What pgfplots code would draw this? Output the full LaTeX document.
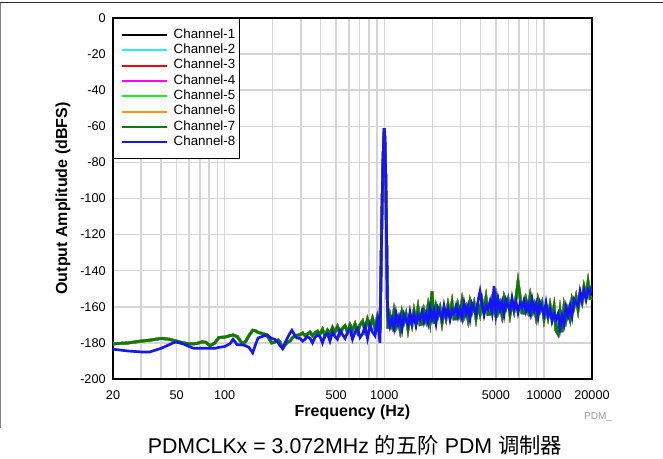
\documentclass[border=0pt]{standalone}
\usepackage{pgfplots}
\pgfplotsset{compat=1.18}
\usepackage{pgfplotstable}
\usepackage{fontspec}
\setmainfont{Liberation Sans}
\newfontfamily\cjk{Noto Sans CJK SC}

\definecolor{ch1}{RGB}{0,0,0}
\definecolor{ch2}{RGB}{40,235,250}
\definecolor{ch3}{RGB}{255,0,0}
\definecolor{ch4}{RGB}{255,0,255}
\definecolor{ch5}{RGB}{30,240,30}
\definecolor{ch6}{RGB}{255,150,0}
\definecolor{ch7}{RGB}{0,128,0}
\definecolor{ch8}{RGB}{20,20,255}
\definecolor{gridgray}{RGB}{212,212,212}

% f = frequency (Hz), g = Channel-7 (and 1-6, hidden under it), b = Channel-8
\pgfplotstableread{
f g b
20 -180.5 -183.5
25 -180 -184.5
30 -179 -185
34 -178.5 -185
40 -177.5 -183
45 -178 -181
49 -178.8 -179.5
55 -180 -180.5
60 -180.5 -182
64 -180.5 -183
67 -180.3 -183
72 -179.5 -183
76 -179.6 -183
81 -181.5 -183
87 -180 -183
92 -177 -182.5
100 -176.8 -182
108 -176 -180.5
113 -175.6 -178
120 -176.5 -181
128 -180 -181
135 -179.5 -181.5
142 -176 -182.5
150 -173 -185.5
156 -173.3 -181
162 -174.2 -177.3
171 -174.7 -176.5
184 -175.6 -175.6
197 -180 -177.5
206 -179.6 -178
217 -178.4 -180
222 -179.5 -181.5
231 -183 -183
245 -180 -178
257 -178.9 -174.5
264 -177.5 -173
272 -176.5 -175
283 -175.8 -177.3
297 -175.5 -177.5
308 -174.5 -179
319 -176 -178
331 -175 -176.5
343 -174 -177.5
355 -176 -180
368 -174.5 -177
382 -173.5 -175.5
396 -175 -176.5
410 -172.5 -180
425 -176 -176
441 -173 -175
457 -175 -179
474 -171.5 -174
491 -174 -176.5
509 -171 -178
528 -175 -173
548 -172 -175.5
568 -170.5 -177.5
589 -174 -174
610 -170 -172.5
632 -173 -178
656 -169.5 -174
680 -174 -172
705 -170 -177
731 -168 -175
757 -173 -171
785 -167 -177.5
814 -171 -170
844 -166.5 -174
875 -172 -176
907 -165.5 -167.5
940 -170 -180
950 -150 -150
965 -112 -112
980 -82 -82
993 -66 -66
1000 -61 -61
1008 -67 -67
1020 -86 -86
1032 -117 -117
1045 -156 -156
1055 -172.0 -165.0
1086 -164.9 -170.9
1118 -169.8 -166.8
1150 -162.7 -171.7
1184 -170.6 -163.6
1219 -166.5 -169.5
1254 -172.4 -165.4
1291 -163.4 -172.4
1329 -168.3 -164.3
1368 -164.2 -167.2
1408 -172.1 -170.1
1449 -165.0 -163.0
1491 -169.8 -168.8
1535 -162.5 -164.5
1580 -168.3 -170.3
1626 -161.0 -165.0
1674 -169.8 -166.8
1723 -169.5 -162.5
1773 -162.3 -168.3
1825 -167.0 -164.0
1879 -159.8 -168.8
1934 -167.5 -160.5
1990 -151.5 -166.4
2048 -169.2 -162.2
2108 -160.1 -169.1
2170 -164.9 -160.9
2234 -160.8 -163.8
2299 -168.6 -166.6
2366 -161.5 -159.5
2436 -166.3 -165.3
2507 -159.2 -161.2
2580 -165.0 -167.0
2656 -157.9 -161.9
2734 -166.7 -163.7
2814 -166.6 -159.6
2896 -159.4 -165.4
2981 -164.3 -161.3
3068 -157.1 -166.1
3158 -165.0 -158.0
3250 -160.8 -163.8
3345 -166.7 -159.7
3443 -157.5 -166.5
3544 -162.4 -158.4
3648 -158.2 -161.2
3755 -166.1 -164.1
3865 -158.9 -156.9
3978 -163.8 -151.5
4094 -156.6 -158.6
4214 -162.5 -164.5
4337 -155.3 -159.3
4464 -164.2 -161.2
4595 -164.0 -157.0
4729 -156.9 -162.9
4868 -161.8 -148.5
5010 -154.7 -163.7
5157 -162.6 -155.6
5308 -158.5 -161.5
5463 -164.4 -157.4
5623 -155.3 -164.3
5787 -160.2 -156.2
5957 -156.1 -159.1
6131 -164.0 -162.0
6310 -157.1 -155.1
6495 -162.1 -161.1
6685 -155.2 -157.2
6881 -146.5 -163.2
7082 -154.3 -158.3
7289 -163.3 -160.3
7503 -163.4 -156.4
7722 -156.4 -162.4
7948 -161.5 -158.5
8181 -154.5 -163.5
8420 -162.8 -155.8
8667 -159.0 -162.0
8920 -165.3 -158.3
9181 -156.6 -165.6
9450 -161.8 -157.8
9727 -158.1 -161.1
10011 -166.4 -164.4
10304 -159.8 -157.8
10606 -165.6 -164.6
10916 -159.3 -161.3
11236 -166.0 -168.0
11565 -160.0 -164.0
11903 -173.0 -167.0
12251 -175.0 -164.0
12610 -163.5 -172.0
12979 -174.0 -165.0
13358 -160.5 -169.5
13749 -167.2 -160.2
14152 -161.8 -164.8
14566 -166.5 -159.5
14992 -156.2 -165.2
15430 -160.0 -156.0
15882 -154.8 -157.8
16347 -161.5 -159.5
16825 -153.4 -151.4
17317 -157.3 -156.3
17824 -149.1 -151.1
18345 -154.0 -156.0
18882 -146.6 -150.6
19434 -155.3 -152.3
20000 -155.0 -148.0
}\spectrum

\begin{document}
\begin{tikzpicture}
\useasboundingbox (-84.75pt,-59.25pt) rectangle (412.5pt,284.25pt);
\begin{axis}[
    name=ax, at={(0,0)}, anchor=south west,
    scale only axis, width=359.25pt, height=270.75pt,
    xmode=log, xmin=20, xmax=20000, ymin=-200, ymax=0,
    xtick={20,50,100,500,1000,5000,10000,20000},
    xticklabels={20,50,100,500,1000,5000,10000,20000},
    minor xtick={30,40,60,70,80,90,200,300,400,600,700,800,900,2000,3000,4000,6000,7000,8000,9000},
    ytick={-200,-180,...,0},
    grid=both,
    major grid style={gridgray, line width=1.1pt},
    minor grid style={gridgray, line width=1.1pt},
    major tick length=0pt, minor tick length=0pt,
    axis line style={line width=1.5pt},
    tick label style={font=\fontsize{9.5}{11}\selectfont},
    /pgf/number format/assume math mode=true,
    yticklabel style={xshift=-2pt},
    xticklabel style={yshift=-5.3pt},
    xlabel={Frequency (Hz)}, ylabel={Output Amplitude (dBFS)},
    label style={font=\fontsize{12}{14}\selectfont\bfseries},
    xlabel style={at={(axis description cs:0.5,-0.093)}, anchor=center},
    ylabel style={at={(axis description cs:-0.1044,0.5)}, anchor=center},
    legend style={at={(0,1)}, anchor=north west, draw=black, line width=1.1pt,
        font=\fontsize{10}{12}\selectfont, inner xsep=1pt, inner ysep=6.5pt,
        row sep=0pt, column sep=2.25pt,
        nodes={inner xsep=2pt, inner ysep=0pt, text height=8pt, text depth=3.5pt}},
    legend cell align=left,
    legend image code/.code={\path (0pt,0pt); \draw[#1, line width=1.5pt] (4.25pt,0pt) -- (38pt,0pt);},
    every axis plot/.append style={line width=2pt, no markers},
]
\addplot[ch1] table[x=f, y=g] {\spectrum};
\addplot[ch2] table[x=f, y=g] {\spectrum};
\addplot[ch3] table[x=f, y=g] {\spectrum};
\addplot[ch4] table[x=f, y=g] {\spectrum};
\addplot[ch5] table[x=f, y=g] {\spectrum};
\addplot[ch6] table[x=f, y=g] {\spectrum};
\addplot[ch7] table[x=f, y=g] {\spectrum};
\addplot[ch8] table[x=f, y=b] {\spectrum};
\legend{Channel-1,Channel-2,Channel-3,Channel-4,Channel-5,Channel-6,Channel-7,Channel-8}
\end{axis}
% page frame lines of the reference
\draw[black!85, line width=0.75pt] (-84.75pt,282.2pt) -- (412.5pt,282.2pt);
\draw[black!50, line width=0.75pt] (-84pt,282.2pt) -- (-84pt,-36.75pt);
\node[font=\fontsize{7.5}{9}\selectfont, text=black!40] at (363.75pt,-28.5pt) {PDM\_};
\node[font=\fontsize{16}{19}\selectfont] at (181.5pt,-49.5pt) {PDMCLKx = 3.072MHz {\cjk 的五阶} PDM {\cjk 调制器}};
\end{tikzpicture}
\end{document}
